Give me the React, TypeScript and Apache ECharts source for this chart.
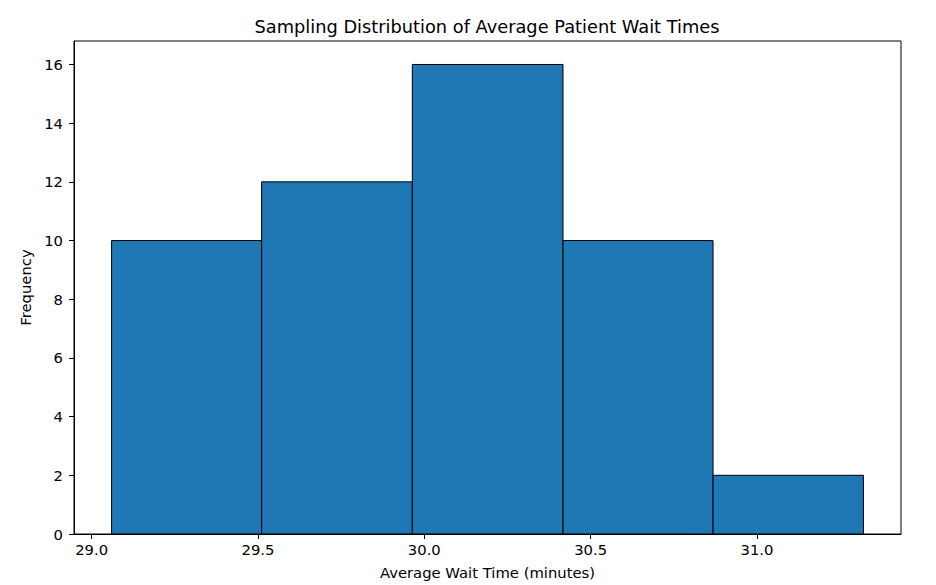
import React, { useEffect, useRef } from "react";
import * as echarts from "echarts";

const binEdges: number[] = [29.06, 29.511, 29.964, 30.417, 30.868, 31.32];
const counts: number[] = [10, 12, 16, 10, 2];
const xTicks: number[] = [29.0, 29.5, 30.0, 30.5, 31.0];
const yTicks: number[] = [0, 2, 4, 6, 8, 10, 12, 14, 16];

const FONT = "DejaVu Sans";

export default function App() {
  const ref = useRef<HTMLDivElement>(null);
  useEffect(() => {
    if (!ref.current) return;
    const chart = echarts.init(ref.current, undefined, { renderer: "svg" });
    const span = binEdges[binEdges.length - 1] - binEdges[0];
    const xMin = binEdges[0] - span * 0.05;
    const xMax = binEdges[binEdges.length - 1] + span * 0.05;
    const yMax = Math.max(...counts) * 1.05;
    const data = counts.map((c, i) => [binEdges[i], binEdges[i + 1], c]);
    chart.setOption({
      animation: false,
      backgroundColor: "#ffffff",
      title: {
        text: "Sampling Distribution of Average Patient Wait Times",
        left: 482,
        textAlign: "center",
        top: 12,
        textStyle: { fontFamily: FONT, fontSize: 17.8, fontWeight: "normal", color: "#000" },
      },
      grid: {
        left: 74,
        right: 35,
        top: 41,
        bottom: 50,
        show: true,
        borderColor: "#000",
        borderWidth: 1,
        backgroundColor: "transparent",
      },
      xAxis: {
        type: "value",
        min: xMin,
        max: xMax,
        name: "Average Wait Time (minutes)",
        nameLocation: "middle",
        nameGap: 31,
        nameTextStyle: { fontFamily: FONT, fontSize: 14.8, color: "#000" },
        axisLine: { show: true, onZero: false, lineStyle: { color: "#000", width: 1 } },
        axisTick: { show: true, length: 5, customValues: xTicks, lineStyle: { color: "#000" } },
        axisLabel: {
          customValues: xTicks,
          margin: 8,
          fontFamily: FONT,
          fontSize: 14.8,
          color: "#000",
          formatter: (v: number) => v.toFixed(1),
        },
        splitLine: { show: false },
      },
      yAxis: {
        type: "value",
        min: 0,
        max: yMax,
        name: "Frequency",
        nameLocation: "middle",
        nameGap: 31,
        nameRotate: 90,
        nameTextStyle: { fontFamily: FONT, fontSize: 14.8, color: "#000" },
        axisLine: { show: true, lineStyle: { color: "#000", width: 1 } },
        axisTick: { show: true, length: 5, customValues: yTicks, lineStyle: { color: "#000" } },
        axisLabel: {
          customValues: yTicks,
          margin: 11,
          fontFamily: FONT,
          fontSize: 14.8,
          color: "#000",
          formatter: (v: number) => String(Math.round(v)),
        },
        splitLine: { show: false },
      },
      series: [
        {
          type: "custom",
          data,
          encode: { x: [0, 1], y: 2 },
          renderItem: (params: any, api: any) => {
            const p0 = api.coord([api.value(0), api.value(2)]);
            const p1 = api.coord([api.value(1), 0]);
            return {
              type: "rect",
              shape: { x: p0[0], y: p0[1], width: p1[0] - p0[0], height: p1[1] - p0[1] },
              style: { fill: "#1f77b4", stroke: "#000", lineWidth: 1 },
            };
          },
        },
      ],
    });
    return () => chart.dispose();
  }, []);
  return <div ref={ref} style={{ width: 936, height: 585, position: "absolute", left: 0, top: 0 }} />;
}
